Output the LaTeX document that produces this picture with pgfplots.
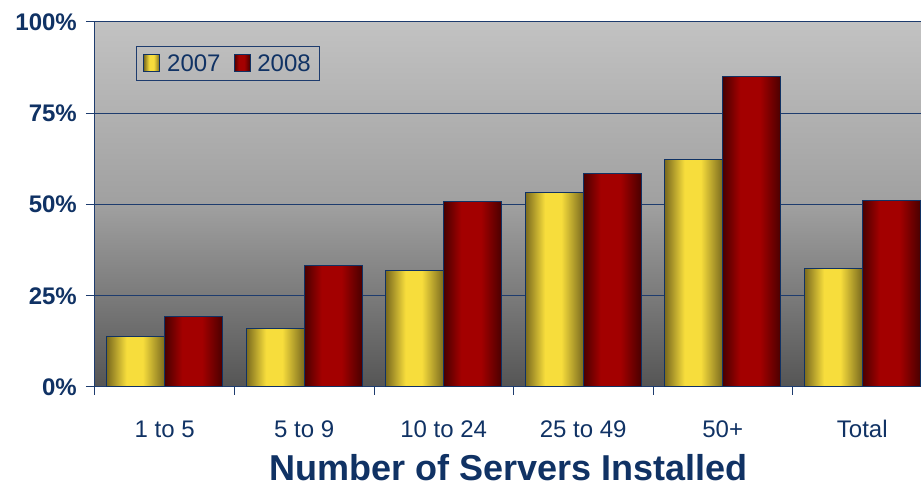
\documentclass[border=0pt]{standalone}
\usepackage{fontspec}
\setmainfont{Liberation Sans}
\usepackage{pgfplots}
\pgfplotsset{compat=1.18}

\definecolor{navy}{RGB}{16,50,100}
\definecolor{gridblue}{RGB}{30,60,110}
\definecolor{yelD}{RGB}{122,106,30}
\definecolor{yelL}{RGB}{247,221,60}
\definecolor{redD}{RGB}{74,0,0}
\definecolor{redL}{RGB}{163,0,0}
\definecolor{bgtop}{RGB}{194,194,194}
\definecolor{bgmid}{RGB}{160,160,160}
\definecolor{bgbot}{RGB}{85,85,85}

% horizontal bar shadings (25bp..75bp spans the bar)
\pgfdeclarehorizontalshading{yelbar}{100bp}{color(0bp)=(yelD); color(25bp)=(yelD); color(42bp)=(yelL); color(56bp)=(yelL); color(75bp)=(yelD); color(100bp)=(yelD)}
\pgfdeclarehorizontalshading{redbar}{100bp}{color(0bp)=(redD); color(25bp)=(redD); color(40bp)=(redL); color(57bp)=(redL); color(75bp)=(redD); color(100bp)=(redD)}

% one \addplot per bar so each bar gets its own shading
\pgfplotsset{
  y07/.style={draw=navy, line width=1pt, shade, shading=yelbar, bar shift=-29pt,
    legend image code/.code={\path[draw=navy, line width=0.8pt, shade, shading=yelbar] (0pt,-8pt) rectangle (16pt,9pt);}},
  y08/.style={draw=navy, line width=1pt, shade, shading=redbar, bar shift=29pt,
    legend image code/.code={\path[draw=navy, line width=0.8pt, shade, shading=redbar] (0pt,-8pt) rectangle (16pt,9pt);}},
}

\begin{document}
\begin{tikzpicture}
\useasboundingbox (0pt,0pt) rectangle (921pt,487pt);
\clip (0pt,0pt) rectangle (921pt,487pt);
\begin{axis}[
  at={(95pt,100pt)}, anchor=south west,
  scale only axis, width=837pt, height=365pt,
  ybar=0pt, bar width=58pt,
  xmin=-0.5, xmax=5.5, ymin=0, ymax=100,
  xtick={0,...,5},
  xticklabels={1 to 5,5 to 9,10 to 24,25 to 49,50+,Total},
  minor xtick={-0.5,0.5,...,5.5},
  ytick={0,25,50,75,100},
  yticklabels={0\%,25\%,50\%,75\%,100\%},
  xtick pos=bottom, ytick pos=left,
  tick align=outside, major tick length=9pt, minor tick length=8pt,
  major x tick style={draw=none},
  minor x tick style={draw=gridblue, line width=1pt},
  major y tick style={draw=gridblue, line width=1pt},
  ymajorgrids, major grid style={draw=gridblue, line width=1pt},
  axis line style={draw=gridblue, line width=1pt},
  axis background/.style={top color=bgtop, bottom color=bgbot, middle color=bgmid},
  xticklabel style={font=\fontsize{24}{24}\selectfont, text=navy, anchor=north,
    inner sep=0pt, text height=17pt, text depth=5pt, yshift=-24pt},
  yticklabel style={font=\fontsize{24}{24}\selectfont\bfseries, text=navy, anchor=east,
    inner sep=0pt, text depth=0pt, xshift=-9pt},
  xlabel={Number of Servers Installed},
  xlabel style={at={(axis description cs:0.494,-0.257)}, anchor=base,
    font=\fontsize{36}{36}\selectfont\bfseries, text=navy},
  legend columns=2,
  legend style={at={(axis description cs:0.049,0.934)}, anchor=north west,
    draw=gridblue, line width=0.8pt, fill=none, text=navy,
    font=\fontsize{24}{24}\selectfont, inner xsep=7pt, inner ysep=6pt,
    /tikz/every odd column/.append style={column sep=5pt},
    /tikz/every even column/.append style={column sep=11pt}},
]
\addplot[y07] coordinates {(0,13.8)};
\addplot[y08] coordinates {(0,19.3)};
\addplot[y07, forget plot] coordinates {(1,15.9)};
\addplot[y07, forget plot] coordinates {(2,32.0)};
\addplot[y07, forget plot] coordinates {(3,53.2)};
\addplot[y07, forget plot] coordinates {(4,62.4)};
\addplot[y07, forget plot] coordinates {(5,32.5)};
\addplot[y08, forget plot] coordinates {(1,33.2)};
\addplot[y08, forget plot] coordinates {(2,50.7)};
\addplot[y08, forget plot] coordinates {(3,58.6)};
\addplot[y08, forget plot] coordinates {(4,85.1)};
\addplot[y08, forget plot] coordinates {(5,51.0)};
\legend{2007,2008}
\end{axis}
\end{tikzpicture}
\end{document}
